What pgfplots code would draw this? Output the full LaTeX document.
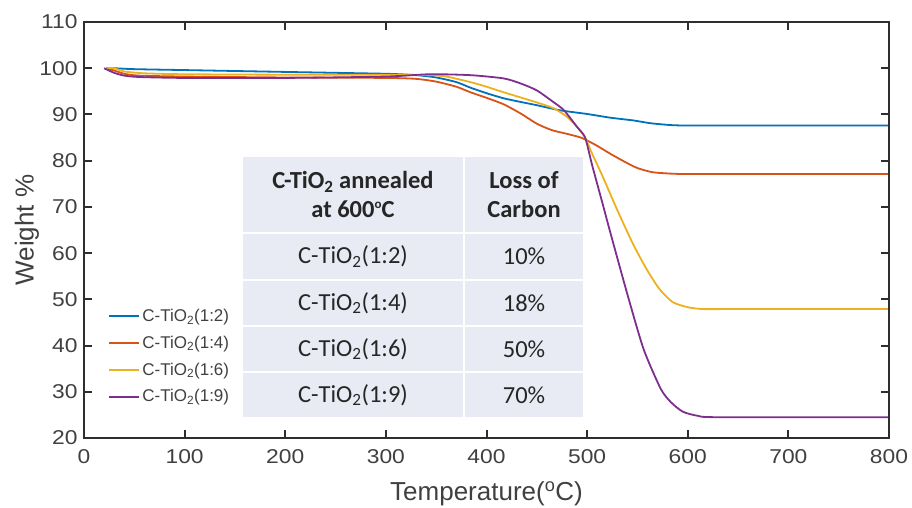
\documentclass[border=0pt]{standalone}
\usepackage{pgfplots}
\pgfplotsset{compat=1.18}
\usepackage{fontspec}
\setmainfont{Liberation Sans}
\newfontfamily\tickfont[FakeStretch=1.14]{Liberation Sans}
\newfontfamily\calibri{Carlito}

\definecolor{mblue}{rgb}{0,0.447,0.741}
\definecolor{morange}{rgb}{0.850,0.325,0.098}
\definecolor{myellow}{rgb}{0.929,0.694,0.125}
\definecolor{mpurple}{rgb}{0.494,0.184,0.556}
\definecolor{axgray}{gray}{0.18}
\definecolor{labgray}{gray}{0.25}
\definecolor{tabbg}{HTML}{E8EAF4}

\begin{document}
\begin{tikzpicture}
\path[use as bounding box] (-84pt,-69pt) rectangle (828pt,438pt);
\begin{axis}[
    at={(0,0)}, anchor=south west,
    width=805pt, height=416pt, scale only axis,
    xmin=0, xmax=800, ymin=20, ymax=110,
    xtick={0,100,...,800},
    ytick={20,30,...,110},
    axis line style={draw=axgray, line width=2.2pt},
    tick style={draw=axgray, line width=2pt},
    major tick length=8pt,
    tick label style={font=\tickfont\fontsize{20}{24}\selectfont, text=labgray},
    xticklabel style={yshift=-8pt},
    yticklabel style={xshift=-3pt},
    /pgf/number format/assume math mode=true,
    xlabel={Temperature(\textsuperscript{o}C)},
    ylabel={Weight \%},
    label style={font=\fontsize{26}{30}\selectfont, text=labgray},
    xlabel style={at={(axis description cs:0.5,-0.1346)}, anchor=center},
    ylabel style={at={(axis description cs:-0.0708,0.5)}, anchor=center},
    legend style={at={(axis description cs:0.03,0.315)}, anchor=north west,
        draw=none, fill=none, font=\fontsize{17}{20}\selectfont, text=labgray,
        row sep=9pt, inner sep=0pt, cells={anchor=west}},
    legend image code/.code={\draw[#1, line width=2pt] (0pt,0pt) -- (30pt,0pt);},
    every axis plot/.append style={line width=1.8pt, smooth, tension=0.4},
    after end axis/.code={
        \draw[axgray, line width=2.2pt] (rel axis cs:0,0) rectangle (rel axis cs:1,1);
    },
]

% table in the middle of the plot
\fill[tabbg] (158,64.6) rectangle (376.6,80.8);
\fill[tabbg] (378.6,64.6) rectangle (495.9,80.8);
\fill[tabbg] (158,54.4) rectangle (376.6,64.1);
\fill[tabbg] (378.6,54.4) rectangle (495.9,64.1);
\fill[tabbg] (158,44.4) rectangle (376.6,54.0);
\fill[tabbg] (378.6,44.4) rectangle (495.9,54.0);
\fill[tabbg] (158,34.5) rectangle (376.6,44.0);
\fill[tabbg] (378.6,34.5) rectangle (495.9,44.0);
\fill[tabbg] (158,24.5) rectangle (376.6,34.1);
\fill[tabbg] (378.6,24.5) rectangle (495.9,34.1);

\begin{scope}[every node/.style={font=\calibri\fontsize{24.5}{29}\selectfont, text=black!85, align=center}]
\node at (267.3,72.7) {\bfseries C-TiO\textsubscript{2} annealed\\\bfseries at 600\raisebox{0.75ex}{\fontsize{13}{13}\selectfont o}C};
\node at (437.3,72.7) {\bfseries Loss of\\\bfseries Carbon};
\node at (267.3,59.25) {C-TiO\textsubscript{2}(1:2)};
\node at (267.3,49.2) {C-TiO\textsubscript{2}(1:4)};
\node at (267.3,39.25) {C-TiO\textsubscript{2}(1:6)};
\node at (267.3,29.3) {C-TiO\textsubscript{2}(1:9)};
\node at (437.3,59.25) {10\%};
\node at (437.3,49.2) {18\%};
\node at (437.3,39.25) {50\%};
\node at (437.3,29.3) {70\%};
\end{scope}

% C-TiO2 (1:2)
\addplot[mblue] coordinates {
(22,100) (30,100) (50,99.8) (100,99.6) (200,99.2) (300,98.8) (330,98.5)
(350,98.0) (370,97.0) (384,95.8) (400,94.6) (417,93.5) (434,92.7) (450,92.0)
(473,90.9) (500,90.1) (523,89.3) (546,88.7) (563,88.1) (583,87.7) (600,87.6)
(650,87.6) (800,87.6)
};
\addlegendentry{C-TiO\textsubscript{2}(1:2)}

% C-TiO2 (1:4)
\addplot[morange] coordinates {
(22,100) (30,99.5) (40,98.8) (55,98.4) (100,98.2) (200,98.0) (300,97.9)
(330,97.7) (350,97.1) (370,96.0) (384,94.8) (400,93.6) (417,92.2) (434,90.2)
(450,88.0) (465,86.6) (480,85.8) (495,84.9) (510,83.2) (523,81.5) (537,79.8)
(550,78.4) (565,77.5) (583,77.2) (600,77.1) (650,77.1) (800,77.1)
};
\addlegendentry{C-TiO\textsubscript{2}(1:4)}

% C-TiO2 (1:6)
\addplot[myellow] coordinates {
(22,100) (30,100) (40,99.3) (60,98.9) (100,98.7) (200,98.6) (300,98.6)
(344,98.5) (360,98.2) (384,97.0) (400,96.0) (417,94.8) (450,92.6) (467,91.3)
(480,89.5) (490,87.3) (498,85.0) (505,81.5) (515,76.8) (530,69.3) (546,61.8)
(560,56.2) (572,52.2) (585,49.4) (600,48.3) (615,47.9) (650,47.9) (800,47.9)
};
\addlegendentry{C-TiO\textsubscript{2}(1:6)}

% C-TiO2 (1:9)
\addplot[mpurple] coordinates {
(20,100) (30,99.0) (40,98.4) (55,98.1) (100,97.9) (200,97.9) (300,98.2)
(344,98.7) (384,98.5) (417,97.8) (434,96.7) (450,95.2) (467,92.6) (477,90.9)
(490,87.3) (498,85.0) (505,79.0) (515,71.0) (523,64.5) (540,51.1) (556,39.3)
(573,30.7) (583,27.8) (595,25.7) (610,24.8) (630,24.5) (800,24.5)
};
\addlegendentry{C-TiO\textsubscript{2}(1:9)}

\end{axis}
\end{tikzpicture}
\end{document}
